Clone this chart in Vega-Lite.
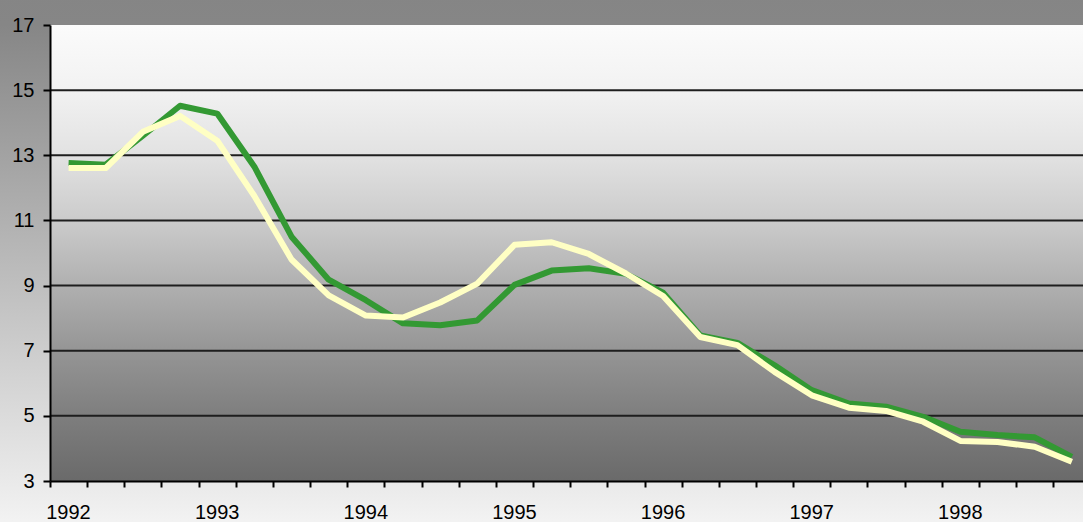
{
  "$schema": "https://vega.github.io/schema/vega-lite/v6.json",
  "autosize": "none",
  "padding": {"left": 50, "top": 25, "right": 0, "bottom": 41},
  "width": 1033,
  "height": 456,
  "background": "#b0b0b0",
  "config": {
    "view": {"stroke": null},
    "axis": {"labelFont": "Liberation Sans", "labelFontSize": 20, "labelColor": "#000000", "domainColor": "#000000", "tickColor": "#000000", "domainWidth": 2, "tickWidth": 2, "grid": false, "title": null}
  },
  "datasets": {
    "series": [
      {"t": 1992.125, "series": "A", "value": 12.76},
      {"t": 1992.375, "series": "A", "value": 12.71},
      {"t": 1992.625, "series": "A", "value": 13.6},
      {"t": 1992.875, "series": "A", "value": 14.52},
      {"t": 1993.125, "series": "A", "value": 14.28},
      {"t": 1993.375, "series": "A", "value": 12.65},
      {"t": 1993.625, "series": "A", "value": 10.5},
      {"t": 1993.875, "series": "A", "value": 9.18},
      {"t": 1994.125, "series": "A", "value": 8.55},
      {"t": 1994.375, "series": "A", "value": 7.84},
      {"t": 1994.625, "series": "A", "value": 7.78},
      {"t": 1994.875, "series": "A", "value": 7.93},
      {"t": 1995.125, "series": "A", "value": 9.02},
      {"t": 1995.375, "series": "A", "value": 9.46},
      {"t": 1995.625, "series": "A", "value": 9.53},
      {"t": 1995.875, "series": "A", "value": 9.36},
      {"t": 1996.125, "series": "A", "value": 8.78},
      {"t": 1996.375, "series": "A", "value": 7.47},
      {"t": 1996.625, "series": "A", "value": 7.24},
      {"t": 1996.875, "series": "A", "value": 6.55},
      {"t": 1997.125, "series": "A", "value": 5.79},
      {"t": 1997.375, "series": "A", "value": 5.38},
      {"t": 1997.625, "series": "A", "value": 5.28},
      {"t": 1997.875, "series": "A", "value": 4.97},
      {"t": 1998.125, "series": "A", "value": 4.51},
      {"t": 1998.375, "series": "A", "value": 4.41},
      {"t": 1998.625, "series": "A", "value": 4.34},
      {"t": 1998.875, "series": "A", "value": 3.74},
      {"t": 1992.125, "series": "B", "value": 12.61},
      {"t": 1992.375, "series": "B", "value": 12.61},
      {"t": 1992.625, "series": "B", "value": 13.72},
      {"t": 1992.875, "series": "B", "value": 14.21},
      {"t": 1993.125, "series": "B", "value": 13.45},
      {"t": 1993.375, "series": "B", "value": 11.75},
      {"t": 1993.625, "series": "B", "value": 9.8},
      {"t": 1993.875, "series": "B", "value": 8.7},
      {"t": 1994.125, "series": "B", "value": 8.08},
      {"t": 1994.375, "series": "B", "value": 8.02},
      {"t": 1994.625, "series": "B", "value": 8.48},
      {"t": 1994.875, "series": "B", "value": 9.06},
      {"t": 1995.125, "series": "B", "value": 10.25},
      {"t": 1995.375, "series": "B", "value": 10.33},
      {"t": 1995.625, "series": "B", "value": 9.97},
      {"t": 1995.875, "series": "B", "value": 9.37},
      {"t": 1996.125, "series": "B", "value": 8.68},
      {"t": 1996.375, "series": "B", "value": 7.42},
      {"t": 1996.625, "series": "B", "value": 7.17},
      {"t": 1996.875, "series": "B", "value": 6.35},
      {"t": 1997.125, "series": "B", "value": 5.63},
      {"t": 1997.375, "series": "B", "value": 5.25},
      {"t": 1997.625, "series": "B", "value": 5.15},
      {"t": 1997.875, "series": "B", "value": 4.82},
      {"t": 1998.125, "series": "B", "value": 4.23},
      {"t": 1998.375, "series": "B", "value": 4.2},
      {"t": 1998.625, "series": "B", "value": 4.05},
      {"t": 1998.875, "series": "B", "value": 3.59}
    ],
    "gridlines": [{"g": 5}, {"g": 7}, {"g": 9}, {"g": 11}, {"g": 13}, {"g": 15}]
  },
  "layer": [
    {
      "data": {"values": [{}]},
      "mark": {"type": "rect", "clip": false, "color": {"gradient": "linear", "x1": 0, "y1": 0, "x2": 0, "y2": 1, "stops": [{"offset": 0, "color": "#858585"}, {"offset": 0.06, "color": "#868686"}, {"offset": 1, "color": "#f4f4f4"}]}},
      "encoding": {
        "x": {"datum": 1990, "type": "quantitative", "scale": {"domain": [1992, 1998.95], "nice": false, "zero": false},
          "axis": {"zindex": 2, "tickCount": 28, "values": [1992, 1992.25, 1992.5, 1992.75, 1993, 1993.25, 1993.5, 1993.75, 1994, 1994.25, 1994.5, 1994.75, 1995, 1995.25, 1995.5, 1995.75, 1996, 1996.25, 1996.5, 1996.75, 1997, 1997.25, 1997.5, 1997.75, 1998, 1998.25, 1998.5, 1998.75], "labelExpr": "datum.value % 1 === 0 ? format(datum.value, 'd') : ''", "labelOffset": 18, "labelPadding": 15, "tickSize": 6, "labelOverlap": false, "labelFlush": false}},
        "x2": {"datum": 2001},
        "y": {"datum": 18, "type": "quantitative", "scale": {"domain": [3, 17], "nice": false, "zero": false},
          "axis": {"zindex": 2, "format": "d", "values": [3, 5, 7, 9, 11, 13, 15, 17], "tickSize": 7, "labelPadding": 9, "labelOverlap": false, "labelFlush": false}},
        "y2": {"datum": 1.5}
      }
    },
    {
      "data": {"values": [{}]},
      "mark": {"type": "rect", "clip": false, "color": {"gradient": "linear", "x1": 0, "y1": 0, "x2": 0, "y2": 1, "stops": [{"offset": 0, "color": "#fbfbfb"}, {"offset": 0.14, "color": "#f2f2f2"}, {"offset": 0.285, "color": "#e2e2e2"}, {"offset": 0.43, "color": "#cbcbcb"}, {"offset": 0.57, "color": "#b0b0b0"}, {"offset": 0.715, "color": "#959595"}, {"offset": 0.857, "color": "#7e7e7e"}, {"offset": 1, "color": "#6a6a6a"}]}},
      "encoding": {
        "x": {"datum": 1992, "type": "quantitative"},
        "x2": {"datum": 1999.2},
        "y": {"datum": 17, "type": "quantitative"},
        "y2": {"datum": 3}
      }
    },
    {
      "data": {"name": "gridlines"},
      "mark": {"type": "rule", "color": "#1e1e1e", "strokeWidth": 2},
      "encoding": {
        "y": {"field": "g", "type": "quantitative"}
      }
    },
    {
      "data": {"name": "series"},
      "transform": [{"filter": "datum.series === 'A'"}],
      "mark": {"type": "line", "color": "#339933", "strokeWidth": 6, "strokeJoin": "round"},
      "encoding": {
        "x": {"field": "t", "type": "quantitative"},
        "y": {"field": "value", "type": "quantitative"}
      }
    },
    {
      "data": {"name": "series"},
      "transform": [{"filter": "datum.series === 'B'"}],
      "mark": {"type": "line", "color": "#ffffc4", "strokeWidth": 6, "strokeJoin": "round"},
      "encoding": {
        "x": {"field": "t", "type": "quantitative"},
        "y": {"field": "value", "type": "quantitative"}
      }
    }
  ]
}
